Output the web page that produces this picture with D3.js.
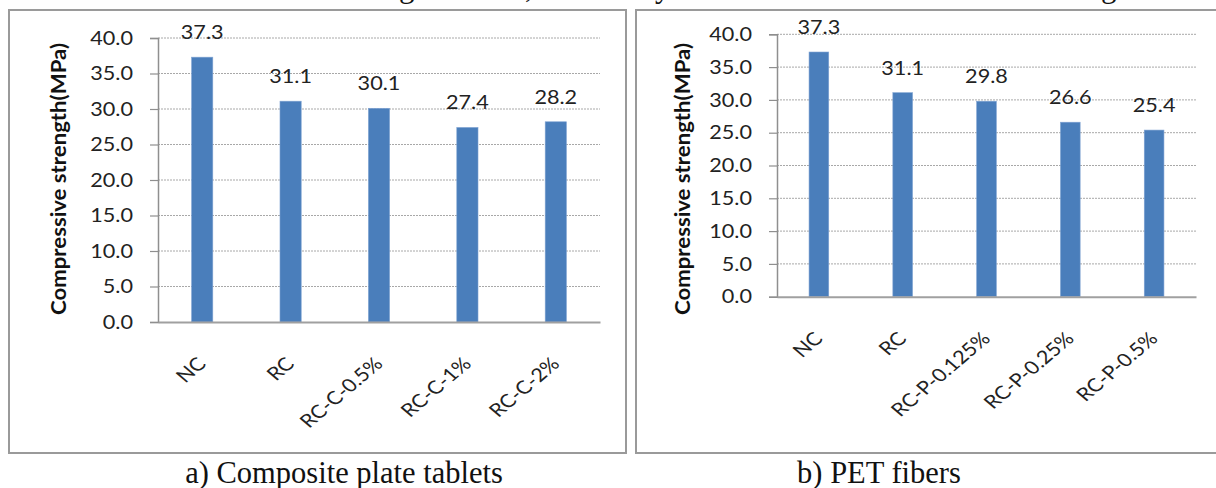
<!DOCTYPE html>
<html>
<head>
<meta charset="utf-8">
<script src="https://cdn.jsdelivr.net/npm/d3@7"></script>
<style>
  html, body { margin: 0; padding: 0; background: #fff; }
  svg { display: block; }
</style>
</head>
<body>
<svg id="chart" width="1216" height="488"></svg>
<script>
// ---------- data ----------
const categoriesA = ["NC", "RC", "RC-C-0.5%", "RC-C-1%", "RC-C-2%"];
const valuesA = [37.3, 31.1, 30.1, 27.4, 28.2];
const categoriesB = ["NC", "RC", "RC-P-0.125%", "RC-P-0.25%", "RC-P-0.5%"];
const valuesB = [37.3, 31.1, 29.8, 26.6, 25.4];
const yTickValues = [0, 5, 10, 15, 20, 25, 30, 35, 40];
const yAxisTitle = "Compressive strength(MPa)";
const captionA = "a) Composite plate tablets";
const captionB = "b) PET fibers";
// descender fragments of the cut-off line of text above the figure
const cutLineGlyphs = [["g", 399], [",", 525], ["y", 655], ["g", 1101]];

// ---------- layout ----------
const SX = 1.17;               // the source figure is stretched horizontally
const FONT = "Lato, 'Open Sans', sans-serif";
const BAR = "#4a7ebb";

const panels = [
  { cats: categoriesA, vals: valuesA, box: [9, 10, 626, 453],
    plot: { x0: 158, x1: 600, yb: 322, yt: 38 }, pad: 0.76,
    titleX: 59, caption: captionA, capX: 344 },
  { cats: categoriesB, vals: valuesB, box: [636, 10, 1230, 453],
    plot: { x0: 777, x1: 1196, yb: 296.7, yt: 34.3 }, pad: 0.765,
    titleX: 683, caption: captionB, capX: 879 }
];

const svg = d3.select("#chart");

function sText(g, x, y, str, rot) {
  return g.append("text")
    .attr("transform", `translate(${x},${y}) scale(${SX},1)` + (rot ? ` rotate(${rot})` : ""))
    .text(str);
}

// cut-off text line at the top
svg.append("g")
  .attr("font-family", "'Liberation Serif', 'Times New Roman', serif")
  .attr("font-size", 31).attr("fill", "#111")
  .selectAll("text").data(cutLineGlyphs).join("text")
  .attr("x", d => d[1]).attr("y", -3).text(d => d[0]);

panels.forEach(p => {
  const g = svg.append("g");
  const [bx0, by0, bx1, by1] = p.box;

  // panel frame
  g.append("rect")
    .attr("x", bx0).attr("y", by0)
    .attr("width", bx1 - bx0).attr("height", by1 - by0)
    .attr("fill", "#fff").attr("stroke", "#9a9a9a").attr("stroke-width", 2);

  const x = d3.scaleBand().domain(p.cats)
    .range([p.plot.x0, p.plot.x1])
    .paddingInner(p.pad).paddingOuter(p.pad / 2);
  const y = d3.scaleLinear().domain([0, 40]).range([p.plot.yb, p.plot.yt]);

  // gridlines
  g.append("g").selectAll("line").data(yTickValues.filter(v => v > 0)).join("line")
    .attr("x1", p.plot.x0).attr("x2", p.plot.x1)
    .attr("y1", d => y(d)).attr("y2", d => y(d))
    .attr("stroke", "#a8a8a8").attr("stroke-width", 1)
    .attr("stroke-dasharray", "2,1");

  // y axis
  const yAxis = d3.axisLeft(y).tickValues(yTickValues).tickSize(8).tickFormat(() => "");
  const ya = g.append("g").attr("transform", `translate(${p.plot.x0},0)`).call(yAxis);
  ya.select(".domain").attr("stroke", "#8f8f8f").attr("stroke-width", 1.5);
  ya.selectAll(".tick line").attr("stroke", "#8f8f8f").attr("stroke-width", 1.2);

  const tl = g.append("g").attr("font-family", FONT).attr("font-size", 18.5)
    .attr("fill", "#222").attr("text-anchor", "end");
  yTickValues.forEach(v => {
    sText(tl, p.plot.x0 - 25, y(v), d3.format(".1f")(v)).attr("dy", "0.36em");
  });

  // bars
  g.append("g").selectAll("rect").data(p.vals).join("rect")
    .attr("x", (d, i) => x(p.cats[i]))
    .attr("width", x.bandwidth())
    .attr("y", d => y(d))
    .attr("height", d => y(0) - y(d))
    .attr("fill", BAR)
    .attr("stroke", "#7fa3d3").attr("stroke-width", 0.6);

  // x axis line
  const xAxis = d3.axisBottom(x).tickSize(0).tickFormat(() => "");
  const xa = g.append("g").attr("transform", `translate(0,${p.plot.yb})`).call(xAxis);
  xa.select(".domain").attr("stroke", "#a0a0a0").attr("stroke-width", 2);

  // data labels
  const dl = g.append("g").attr("font-family", FONT).attr("font-size", 18.5)
    .attr("fill", "#222").attr("text-anchor", "middle");
  p.vals.forEach((v, i) => {
    sText(dl, x(p.cats[i]) + x.bandwidth() / 2, y(v) - 18, d3.format(".1f")(v));
  });

  // category labels
  const cl = g.append("g").attr("font-family", FONT).attr("font-size", 18.5)
    .attr("fill", "#222").attr("text-anchor", "end");
  p.cats.forEach(c => {
    sText(cl, x(c) + x.bandwidth() / 2 + 5, p.plot.yb + 43, c, -45);
  });

  // y axis title
  g.append("text")
    .attr("transform", `translate(${p.titleX + 7},179) rotate(-90)`)
    .attr("font-family", FONT).attr("font-size", 20).attr("font-weight", "bold")
    .attr("fill", "#111").attr("text-anchor", "middle")
    .attr("textLength", 272).attr("lengthAdjust", "spacingAndGlyphs")
    .text(yAxisTitle);

  // caption
  svg.append("text")
    .attr("x", p.capX).attr("y", 483)
    .attr("font-family", "'Liberation Serif', 'Times New Roman', serif")
    .attr("font-size", 30.5).attr("fill", "#111").attr("text-anchor", "middle")
    .text(p.caption);
});
</script>
</body>
</html>
